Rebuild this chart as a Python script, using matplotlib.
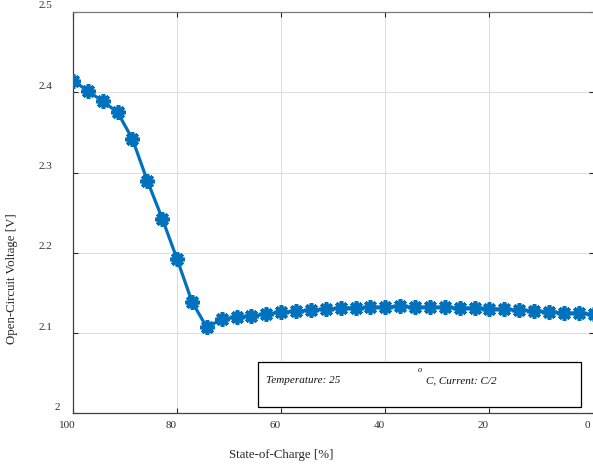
import matplotlib
matplotlib.use("Agg")
import matplotlib.pyplot as plt
import matplotlib.transforms as mtransforms
from matplotlib.patches import Rectangle
import numpy as np

plt.rcParams['font.family'] = ['Liberation Serif', 'DejaVu Serif']

# ---- data ----
soc = [100.00, 97.14, 94.29, 91.43, 88.57, 85.71, 82.86, 80.00, 77.14,
       74.29, 71.43, 68.57, 65.71, 62.86, 60.00, 57.14, 54.29, 51.43,
       48.57, 45.71, 42.86, 40.00, 37.14, 34.29, 31.43, 28.57, 25.71,
       22.86, 20.00, 17.14, 14.29, 11.43, 8.57, 5.71, 2.86, 0.00]
ocv = [2.4146, 2.4016, 2.3888, 2.3750, 2.3415, 2.2895, 2.2427, 2.1920, 2.1390,
       2.1070, 2.1174, 2.1199, 2.1215, 2.1237, 2.1260, 2.1270, 2.1286, 2.1300,
       2.1310, 2.1315, 2.1320, 2.1323, 2.1332, 2.1319, 2.1323, 2.1319, 2.1311,
       2.1311, 2.1303, 2.1294, 2.1286, 2.1278, 2.1265, 2.1253, 2.1244, 2.1232]
xticks = [100, 80, 60, 40, 20, 0]
xticklabels = ['100', '80', '60', '40', '20', '0']
yticks = [2.0, 2.1, 2.2, 2.3, 2.4, 2.5]
yticklabels = ['2', '2.1', '2.2', '2.3', '2.4', '2.5']

W, H = 593, 472
fig = plt.figure(figsize=(W / 100, H / 100), dpi=100)
ax = fig.add_axes([73 / W, 1 - 413.3 / H, (593.5 - 73) / W, (413.3 - 12) / H])

ax.plot(soc, ocv, color='#0072BD', lw=2.3, marker=(8, 2, 0), ms=10.5, mew=2.6,
        mec='#0072BD', mfc='#0072BD', zorder=3)

ax.set_xlim(100, 0)
ax.set_ylim(2.0, 2.5)
ax.set_xticks(xticks)
ax.set_xticklabels(xticklabels)
ax.set_yticks(yticks)
ax.set_yticklabels(yticklabels)

ax.grid(True, color='#dcdcdc', lw=0.7)
ax.set_axisbelow(True)
ax.tick_params(direction='in', length=3.5, width=0.8, color='#262626',
               labelsize=8, labelcolor='#303030', top=True, right=True)
ax.tick_params(axis='y', pad=15.0)
ax.tick_params(axis='x', pad=5.5)
for s in ax.spines.values():
    s.set_color('#404040')
    s.set_linewidth(0.9)
ax.spines['top'].set_color('#7a7a7a')

# tick label offsets (as in the reference export)
for lab in ax.get_xticklabels():
    lab.set_transform(lab.get_transform() + mtransforms.ScaledTranslation(-6 / 100, 0, fig.dpi_scale_trans))
for lab in ax.get_yticklabels():
    dx = 8 / 100 if lab.get_text() == '2' else 0
    lab.set_transform(lab.get_transform() + mtransforms.ScaledTranslation(dx, 7 / 100, fig.dpi_scale_trans))

ax.set_xlabel('State-of-Charge [%]', fontsize=9.3, color='#262626', va='center')
ax.xaxis.set_label_coords((281 - 73) / 520.5, (413.3 - 455) / 401.3)
ax.set_ylabel('Open-Circuit Voltage [V]', fontsize=9.3, color='#262626', va='center')
ax.yaxis.set_label_coords((12 - 73) / 520.5, (413.3 - 279) / 401.3)

# annotation box
ax.add_patch(Rectangle((0.3549, 0.0157), 0.976 - 0.3549, 0.127 - 0.0157,
                       transform=ax.transAxes, fill=True, facecolor='white',
                       edgecolor='black', lw=0.9, zorder=4))
ax.text(0.3708, 0.0805, 'Temperature: 25', transform=ax.transAxes, fontsize=8,
        style='italic', va='center', ha='left', zorder=5, color='#111111')
ax.text(0.662, 0.108, 'o', transform=ax.transAxes, fontsize=6,
        style='italic', va='center', ha='left', zorder=5, color='#111111')
ax.text(0.6776, 0.0805, 'C, Current: C/2', transform=ax.transAxes, fontsize=8,
        style='italic', va='center', ha='left', zorder=5, color='#111111')

fig.savefig('out.png', dpi=100)
